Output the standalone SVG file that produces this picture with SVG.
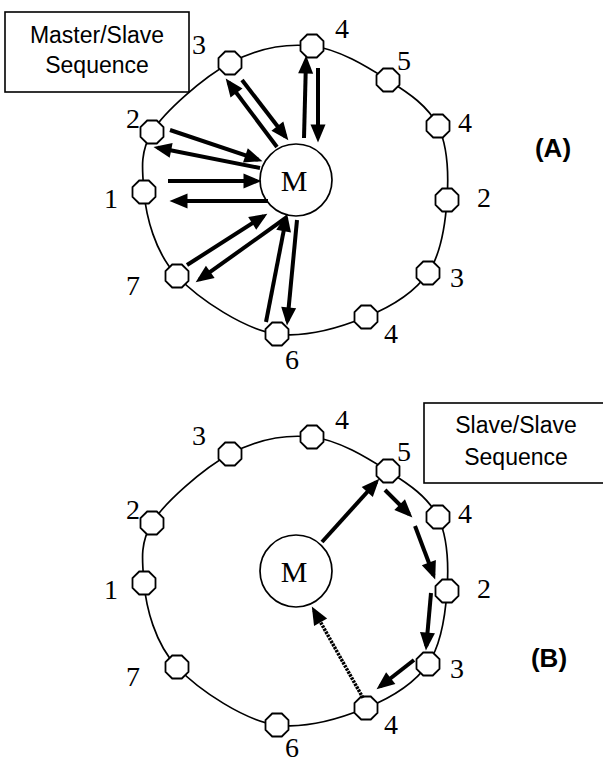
<svg xmlns="http://www.w3.org/2000/svg" xmlns:xlink="http://www.w3.org/1999/xlink" width="603" height="762" viewBox="0 0 603 762">
  <style>
    .ring { fill: none; stroke: #000; stroke-width: 1.7; }
    .node { fill: #fff; stroke: #000; stroke-width: 1.8; }
    .master { fill: #fff; stroke: #000; stroke-width: 1.7; }
    .num { font-family: "Liberation Serif", "Times New Roman", serif; font-size: 28px; text-anchor: middle; fill: #000; }
    .mtext { font-family: "Liberation Serif", "Times New Roman", serif; font-size: 30px; text-anchor: middle; fill: #000; }
    .box { fill: #fff; stroke: #000; stroke-width: 1.6; }
    .boxtext { font-family: "Liberation Sans", Arial, sans-serif; font-size: 23px; text-anchor: middle; fill: #000; }
    .tag { font-family: "Liberation Sans", Arial, sans-serif; font-size: 26px; font-weight: bold; text-anchor: middle; fill: #000; }
    .arrow { stroke: #000; stroke-width: 4; fill: none; marker-end: url(#head); }
    .dotted { stroke: #000; stroke-width: 3.5; fill: none; stroke-dasharray: 2.5 1; marker-end: url(#head); }
  </style>
  <defs>
    <polygon id="oct" class="node" points="11.5,4.8 4.8,11.5 -4.8,11.5 -11.5,4.8 -11.5,-4.8 -4.8,-11.5 4.8,-11.5 11.5,-4.8"/>
    <marker id="head" markerUnits="userSpaceOnUse" markerWidth="18" markerHeight="15" refX="13.5" refY="7.5" orient="auto" overflow="visible">
      <path d="M0,0 L18,7.5 L0,15 z" fill="#000"/>
    </marker>
    <!-- closed ring through the eleven slave positions -->
    <path id="ringpath" class="ring" d="M312,46 C338.3,48.8 367,66.7 388,80 C409,93.3 428.2,106 438,126 C447.8,146 448.7,175.5 447,200 C445.3,224.5 441.5,253.5 428,273 C414.5,292.5 391.2,306.8 366,317 C340.8,327.2 308.5,338 277,334 C245.5,330 199.2,299.7 177,276 C154.8,252.3 146,216 144,192 C142,168 140,152 152,132 C164,112 203.3,77.3 230,63 C256.7,48.7 285.7,43.2 312,46 Z"/>
  </defs>

  <rect width="603" height="762" fill="#fff"/>

  <!-- Rings -->
  <use href="#ringpath"/>
  <use href="#ringpath" transform="translate(0,391)"/>

  <!-- (A) master / slave -->
  <g id="a-master">
    <circle class="master" cx="296" cy="180" r="36"/>
    <text class="mtext" x="294" y="191">M</text>
  </g>
  <g id="a-n4-top"><use href="#oct" x="312" y="46"/><text class="num" x="342" y="38">4</text></g>
  <g id="a-n5"><use href="#oct" x="388" y="80"/><text class="num" x="404" y="70">5</text></g>
  <g id="a-n4-right"><use href="#oct" x="438" y="126"/><text class="num" x="465" y="132">4</text></g>
  <g id="a-n2-right"><use href="#oct" x="447" y="200"/><text class="num" x="484" y="207">2</text></g>
  <g id="a-n3-right"><use href="#oct" x="428" y="273"/><text class="num" x="457" y="287">3</text></g>
  <g id="a-n4-low"><use href="#oct" x="366" y="317"/><text class="num" x="391" y="343">4</text></g>
  <g id="a-n6"><use href="#oct" x="277" y="334"/><text class="num" x="292" y="369">6</text></g>
  <g id="a-n7"><use href="#oct" x="177" y="276"/><text class="num" x="133" y="295">7</text></g>
  <g id="a-n1"><use href="#oct" x="144" y="192"/><text class="num" x="111" y="208">1</text></g>
  <g id="a-n2-left"><use href="#oct" x="152" y="132"/><text class="num" x="133" y="128">2</text></g>
  <g id="a-n3-left"><use href="#oct" x="230" y="63"/><text class="num" x="199" y="54">3</text></g>

  <g id="a-caption">
    <rect class="box" x="5" y="12" width="184" height="80"/>
    <text class="boxtext" x="97" y="43">Master/Slave</text>
    <text class="boxtext" x="97" y="73">Sequence</text>
  </g>
  <text id="a-tag" class="tag" x="553" y="157">(A)</text>

  <!-- (B) slave / slave -->
  <g id="b-master">
    <circle class="master" cx="296" cy="571" r="36"/>
    <text class="mtext" x="294" y="582">M</text>
  </g>
  <g id="b-n4-top"><use href="#oct" x="312" y="437"/><text class="num" x="342" y="429">4</text></g>
  <g id="b-n5"><use href="#oct" x="388" y="471"/><text class="num" x="404" y="461">5</text></g>
  <g id="b-n4-right"><use href="#oct" x="438" y="517"/><text class="num" x="465" y="523">4</text></g>
  <g id="b-n2-right"><use href="#oct" x="447" y="591"/><text class="num" x="484" y="598">2</text></g>
  <g id="b-n3-right"><use href="#oct" x="428" y="664"/><text class="num" x="457" y="678">3</text></g>
  <g id="b-n4-low"><use href="#oct" x="366" y="708"/><text class="num" x="391" y="734">4</text></g>
  <g id="b-n6"><use href="#oct" x="277" y="725"/><text class="num" x="292" y="757">6</text></g>
  <g id="b-n7"><use href="#oct" x="177" y="667"/><text class="num" x="133" y="686">7</text></g>
  <g id="b-n1"><use href="#oct" x="144" y="583"/><text class="num" x="111" y="599">1</text></g>
  <g id="b-n2-left"><use href="#oct" x="152" y="523"/><text class="num" x="133" y="519">2</text></g>
  <g id="b-n3-left"><use href="#oct" x="230" y="454"/><text class="num" x="199" y="445">3</text></g>

  <g id="b-caption">
    <rect class="box" x="424" y="403" width="190" height="80"/>
    <text class="boxtext" x="516" y="433">Slave/Slave</text>
    <text class="boxtext" x="516" y="465">Sequence</text>
  </g>
  <text id="b-tag" class="tag" x="549" y="667">(B)</text>

  <!-- Connectors -->
  <g id="connectors">
    <!-- (A) master polls each slave and gets a reply -->
    <line class="arrow" x1="242" y1="80" x2="285.6" y2="136.8"/>
    <line class="arrow" x1="277" y1="147" x2="228.4" y2="82.2"/>
    <line class="arrow" x1="304" y1="138" x2="306" y2="60"/>
    <line class="arrow" x1="318" y1="68" x2="318" y2="138"/>
    <line class="arrow" x1="170" y1="130" x2="258.2" y2="159.7"/>
    <line class="arrow" x1="260" y1="168" x2="157.9" y2="147.8"/>
    <line class="arrow" x1="168" y1="181" x2="257" y2="181"/>
    <line class="arrow" x1="268" y1="201" x2="174" y2="201"/>
    <line class="arrow" x1="187" y1="265" x2="263.6" y2="216.1"/>
    <line class="arrow" x1="287" y1="217" x2="199.3" y2="279.7"/>
    <line class="arrow" x1="266" y1="322" x2="286.2" y2="217.9"/>
    <line class="arrow" x1="297" y1="220" x2="287.4" y2="321"/>
    <!-- (B) token passed from slave to slave -->
    <line class="arrow" x1="322" y1="542" x2="376.3" y2="482"/>
    <line class="arrow" x1="385" y1="490" x2="409.2" y2="514.2"/>
    <line class="arrow" x1="415" y1="526" x2="433.6" y2="575.3"/>
    <line class="arrow" x1="431" y1="593" x2="426.3" y2="646"/>
    <line class="arrow" x1="414" y1="660" x2="380.1" y2="686.5"/>
    <line class="dotted" x1="363" y1="698" x2="314" y2="610.5"/>
  </g>
</svg>
